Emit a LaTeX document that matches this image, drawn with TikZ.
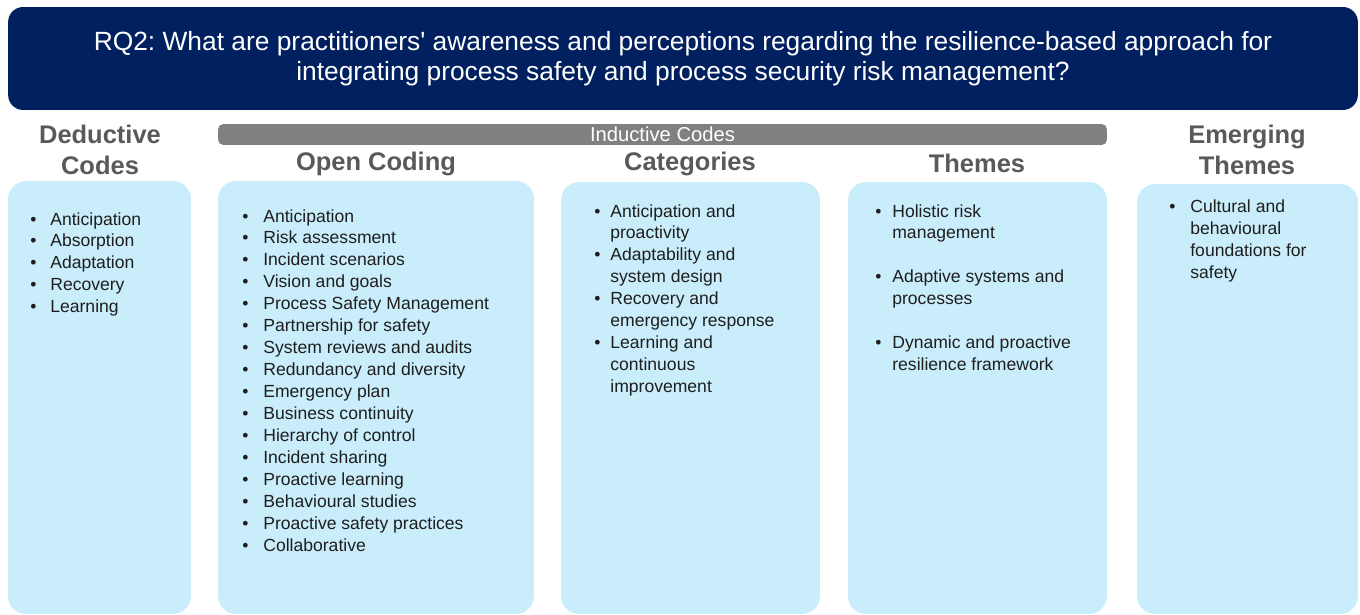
\documentclass[tikz,border=0pt]{standalone}
\usepackage{fontspec}
\setmainfont{Liberation Sans}
\usetikzlibrary{positioning}
\frenchspacing

\definecolor{rqnavy}{RGB}{0,32,96}
\definecolor{codeblue}{RGB}{202,237,251}
\definecolor{bargray}{RGB}{128,128,128}
\definecolor{headgray}{RGB}{89,89,89}
\definecolor{listtext}{RGB}{30,30,30}

% bullet list: #1 = width of the bullet column, #2 = rows
\newcommand{\codelist}[2]{\begin{tabular}[t]{@{}p{#1}@{}l@{}}#2\end{tabular}}
\newcommand{\bl}{\textbullet}

\begin{document}
\begin{tikzpicture}[x=0.02cm, y=-0.02cm,
    titlebox/.style={fill=rqnavy, text=white, rounded corners=0.3cm, align=center,
        minimum width=27cm, minimum height=2.06cm,
        font=\fontsize{15}{17}\selectfont},
    bar/.style={fill=bargray, text=white, rounded corners=3pt, inner sep=0pt,
        minimum width=17.78cm, minimum height=0.42cm, font=\fontsize{11.5}{12}\selectfont},
    colhead/.style={text=headgray, align=center, inner sep=0pt,
        font=\bfseries\fontsize{14.5}{18}\selectfont},
    colbox/.style={fill=codeblue, rounded corners=0.36cm, inner sep=0pt, minimum height=8.66cm},
    codes/.style={anchor=base west, inner sep=0pt, text=listtext,
        font=\fontsize{10}{12.5}\selectfont}]

    \useasboundingbox (0,0) rectangle (1360,615);

    % Research question
    \node[titlebox] (rq) at (683,58.5) {RQ2: What are practitioners\textquotesingle{} awareness and perceptions regarding the resilience-based approach for\\integrating process safety and process security risk management?};

    % Inductive codes bar
    \node[bar] (inductive) at (662.5,134.5) {Inductive Codes};

    % Column headings
    \node[colhead] (dedhead) at (100,150) {Deductive\\Codes};
    \node[colhead] (openhead) at (376,164) {Open Coding};
    \node[colhead] (cathead) at (690,164) {Categories};
    \node[colhead] (themehead) at (977,163) {Themes};
    \node[colhead] (emerghead) at (1247,150) {Emerging\\Themes};

    % Columns
    \node[colbox, minimum width=3.66cm] (ded) at (99.5,397.5) {};
    \node[colbox, minimum width=6.32cm] (open) at (376,397.5) {};
    \node[colbox, minimum width=5.18cm, minimum height=8.64cm] (cat) at (690.5,398) {};
    \node[colbox, minimum width=5.18cm, minimum height=8.64cm] (theme) at (977.5,398) {};
    \node[colbox, minimum width=4.42cm, minimum height=8.6cm] (emerg) at (1247.5,399) {};

    % Lists
    \node[codes] (dedlist) at (30,225) {\codelist{0.4cm}{%
        \bl & Anticipation\\
        \bl & Absorption\\
        \bl & Adaptation\\
        \bl & Recovery\\
        \bl & Learning}};

    \node[codes] (openlist) at (242,222) {\codelist{0.42cm}{%
        \bl & Anticipation\\
        \bl & Risk assessment\\
        \bl & Incident scenarios\\
        \bl & Vision and goals\\
        \bl & Process Safety Management\\
        \bl & Partnership for safety\\
        \bl & System reviews and audits\\
        \bl & Redundancy and diversity\\
        \bl & Emergency plan\\
        \bl & Business continuity\\
        \bl & Hierarchy of control\\
        \bl & Incident sharing\\
        \bl & Proactive learning\\
        \bl & Behavioural studies\\
        \bl & Proactive safety practices\\
        \bl & Collaborative}};

    \node[codes] (catlist) at (594,217) {\codelist{0.32cm}{%
        \bl & Anticipation and\\
            & proactivity\\
        \bl & Adaptability and\\
            & system design\\
        \bl & Recovery and\\
            & emergency response\\
        \bl & Learning and\\
            & continuous\\
            & improvement}};

    \node[codes] (themelist) at (875,217) {\codelist{0.34cm}{%
        \bl & Holistic risk\\
            & management\\
            & \\
        \bl & Adaptive systems and\\
            & processes\\
            & \\
        \bl & Dynamic and proactive\\
            & resilience framework}};

    \node[codes] (emerglist) at (1169,213) {\codelist{0.42cm}{%
        \bl & Cultural and\\
            & behavioural\\
            & foundations for\\
            & safety}};

\end{tikzpicture}
\end{document}
